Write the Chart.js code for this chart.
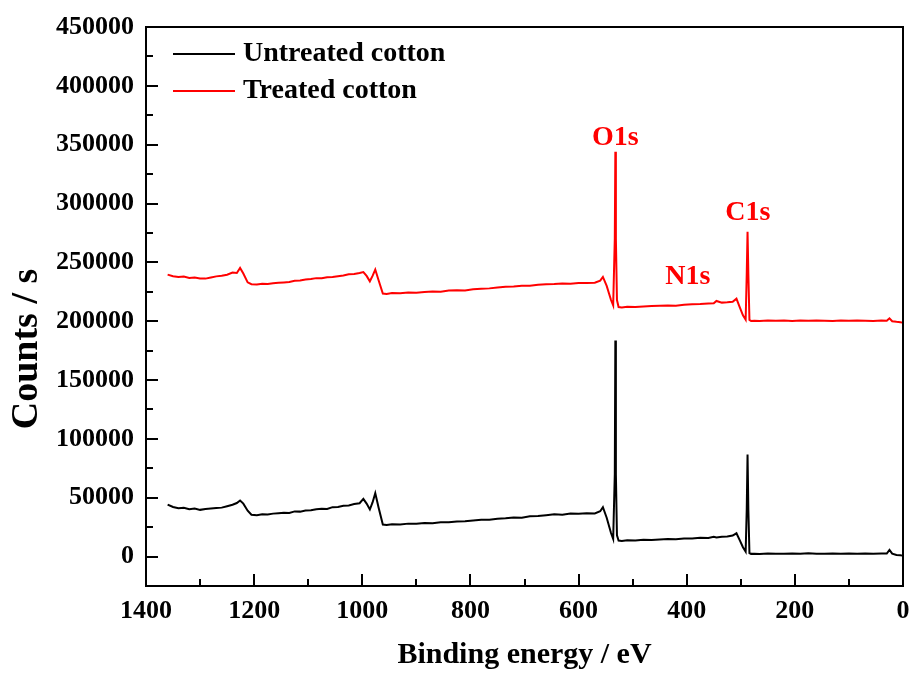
<!DOCTYPE html>
<html>
<head>
<meta charset="utf-8">
<script src="https://cdn.jsdelivr.net/npm/chart.js@4.4.1/dist/chart.umd.min.js"></script>
<style>
  html, body { margin: 0; padding: 0; background: #fff; }
  #wrap { width: 911px; height: 675px; }
</style>
</head>
<body>
<div id="wrap"><canvas id="xps"></canvas></div>
<script>
// binding energy (eV), shared by both spectra
const energy = [
  1360,1350,1340,1330,1320,1310,1300,1290,1280,1270,
  1260,1250,1240,1232,1226,1220,1212,1205,1195,1185,
  1175,1165,1155,1145,1135,1125,1115,1105,1095,1085,
  1075,1065,1055,1045,1035,1025,1015,1005,998,992,
  986,981,976,970,962,955,945,930,915,900,
  885,870,855,840,825,810,795,780,765,750,
  735,720,705,690,675,660,645,630,615,600,
  585,570,560,555,548,540,536,533,532,531,
  529,526,520,510,495,480,465,450,435,420,
  405,390,375,360,350,345,335,325,315,308,
  302,296,291,289,287.5,286,284,281,275,265,
  250,235,220,205,190,175,160,145,130,115,
  100,85,70,55,40,30,25,20,12,5,
  1
];

const untreated = [
  44200,42100,41000,41500,40200,40800,39700,40500,40800,41200,
  41600,42800,44000,45500,47600,45000,39000,35500,35200,36000,
  35800,36500,36900,37300,37100,38400,38200,39100,39300,40200,
  40600,40400,42000,42200,43100,43500,44600,45300,49000,45000,
  40000,46000,53900,42000,27200,26800,27500,27200,28000,27800,
  28600,28300,29200,29200,29900,30100,30600,31200,31300,32200,
  32600,33300,33100,34200,34500,35200,35900,35600,36500,36400,
  36900,36600,38500,41900,33000,20000,15000,70000,183700,70000,
  18000,13600,13200,13900,13600,14200,14000,14600,15000,14700,
  15400,15300,16000,15800,16800,16200,16900,17100,17900,19800,
  14000,8000,4300,40000,86800,40000,3000,2300,2500,2200,
  2600,2400,2300,2700,2300,2800,2500,2400,2600,2300,
  2700,2400,2600,2300,2700,2600,5700,2500,1400,1100,
  800
];

const treated = [
  239600,238200,237500,237900,236800,237100,236300,236200,237200,238100,
  238600,239500,241300,241000,245200,240500,233000,231400,231200,231900,
  231600,232300,232600,232900,233300,234300,234600,235400,235800,236600,
  236500,237400,237600,238300,238900,239900,240100,240900,241800,238500,
  233900,238500,243900,235000,223500,223200,223900,223700,224400,224200,
  224800,225300,225100,226000,226400,226200,227100,227600,227900,228600,
  229200,229400,230100,230200,230900,231400,231600,232000,231900,232500,
  232400,232700,234500,237600,230000,218000,213500,270000,343900,270000,
  218000,212000,211600,212200,212100,212600,212900,213100,213400,213200,
  214000,214400,214600,215000,215200,217200,215800,216100,216600,219200,
  212000,205000,201300,240000,275900,240000,201000,200200,200400,200100,
  200500,200300,200600,200200,200500,200300,200700,200400,200200,200500,
  200300,200600,200400,200200,200500,200300,202400,200000,199500,199200,
  198800
];

const xTicks = [1400, 1200, 1000, 800, 600, 400, 200, 0];
const xMinor = [1300, 1100, 900, 700, 500, 300, 100];
const yTicks = [0, 50000, 100000, 150000, 200000, 250000, 300000, 350000, 400000, 450000];
const yMinor = [25000, 75000, 125000, 175000, 225000, 275000, 325000, 375000, 425000];

const peakLabels = ['O1s', 'N1s', 'C1s'];
const peakEnergy = [532, 398, 287];
const peakCounts = [356000, 238000, 292500];

const yTitle = 'Counts / s';

const RED = '#ff0000';
const SERIF = "'Liberation Serif', 'Times New Roman', serif";

// frame, inward ticks, legend, y title and peak labels
const decor = {
  id: 'decor',
  afterDraw(chart) {
    const {ctx, chartArea: a, scales: {x, y}} = chart;
    ctx.save();
    ctx.strokeStyle = '#000';
    ctx.lineWidth = 2;
    ctx.strokeRect(a.left, a.top, a.right - a.left, a.bottom - a.top);

    ctx.beginPath();
    yTicks.forEach(v => { const p = Math.round(y.getPixelForValue(v)); ctx.moveTo(a.left, p); ctx.lineTo(a.left + 12, p); });
    yMinor.forEach(v => { const p = Math.round(y.getPixelForValue(v)); ctx.moveTo(a.left, p); ctx.lineTo(a.left + 7, p); });
    xTicks.forEach(v => { const p = Math.round(x.getPixelForValue(v)); ctx.moveTo(p, a.bottom); ctx.lineTo(p, a.bottom - 12); });
    xMinor.forEach(v => { const p = Math.round(x.getPixelForValue(v)); ctx.moveTo(p, a.bottom); ctx.lineTo(p, a.bottom - 7); });
    ctx.stroke();

    // legend
    ctx.font = 'bold 28px ' + SERIF;
    ctx.textBaseline = 'middle';
    ctx.textAlign = 'left';
    chart.data.datasets.forEach((ds, i) => {
      const ly = 54 + i * 37;
      ctx.strokeStyle = ds.borderColor;
      ctx.lineWidth = 2;
      ctx.beginPath();
      ctx.moveTo(173, ly);
      ctx.lineTo(235, ly);
      ctx.stroke();
      ctx.fillStyle = '#000';
      ctx.fillText(ds.label, 243, ly);
    });

    // peak labels
    ctx.fillStyle = RED;
    ctx.textAlign = 'center';
    peakLabels.forEach((t, i) => {
      ctx.fillText(t, x.getPixelForValue(peakEnergy[i]), y.getPixelForValue(peakCounts[i]));
    });

    // y axis title, sits a little below the middle in the original
    ctx.fillStyle = '#000';
    ctx.font = 'bold 38px ' + SERIF;
    ctx.translate(27, 349);
    ctx.rotate(-Math.PI / 2);
    ctx.fillText(yTitle, 0, 0);
    ctx.restore();
  }
};

new Chart(document.getElementById('xps'), {
  type: 'line',
  data: {
    datasets: [
      {
        label: 'Untreated cotton',
        data: energy.map((e, i) => ({x: e, y: untreated[i]})),
        borderColor: '#000',
        borderWidth: 2,
        pointRadius: 0
      }, {
        label: 'Treated cotton',
        data: energy.map((e, i) => ({x: e, y: treated[i]})),
        borderColor: RED,
        borderWidth: 2,
        pointRadius: 0
      }
    ]
  },
  options: {
    responsive: true,
    maintainAspectRatio: false,
    animation: false,
    layout: { padding: { top: 27, right: 8, left: 0, bottom: 0 } },
    plugins: { legend: { display: false }, tooltip: { enabled: false } },
    scales: {
      x: {
        type: 'linear',
        reverse: true,
        min: 0,
        max: 1400,
        afterBuildTicks: s => { s.ticks = xTicks.map(v => ({value: v})); },
        afterFit: s => { s.height = 89; s.paddingLeft = 0; s.paddingRight = 0; },
        grid: { drawOnChartArea: false, drawTicks: false },
        border: { display: false },
        ticks: { color: '#000', padding: 10, maxRotation: 0, callback: v => String(v), font: { family: SERIF, size: 26, weight: 'bold' } },
        title: { display: true, text: 'Binding energy / eV', color: '#000', padding: { top: 0, bottom: 2 }, font: { family: SERIF, size: 30, weight: 'bold' } }
      },
      y: {
        min: -25000,
        max: 450000,
        afterBuildTicks: s => { s.ticks = yTicks.map(v => ({value: v})); },
        afterFit: s => { s.width = 146; s.paddingTop = 0; s.paddingBottom = 0; },
        grid: { drawOnChartArea: false, drawTicks: false },
        border: { display: false },
        ticks: { color: '#000', padding: 12, callback: v => String(v), font: { family: SERIF, size: 26, weight: 'bold' } }
      }
    }
  },
  plugins: [decor]
});
</script>
</body>
</html>
